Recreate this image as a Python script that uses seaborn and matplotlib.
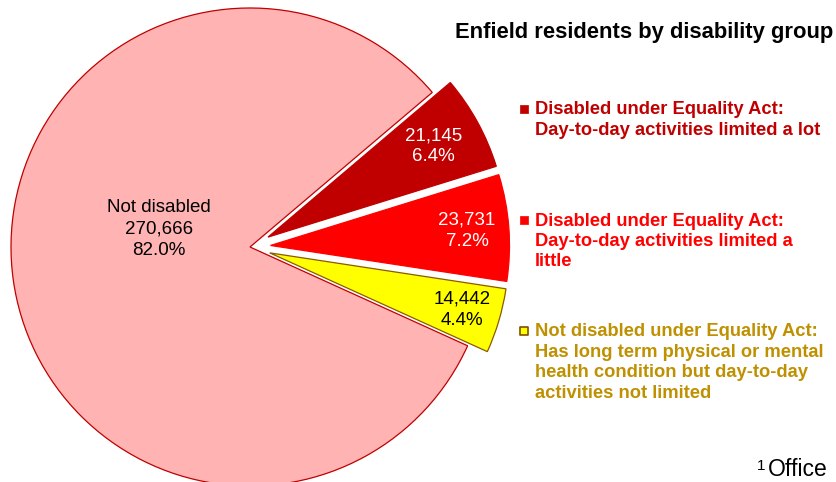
import matplotlib
matplotlib.use("Agg")
import matplotlib.pyplot as plt
import seaborn as sns
import numpy as np

# ---- data ----
categories = [
    "Disabled under Equality Act:\nDay-to-day activities limited a lot",
    "Disabled under Equality Act:\nDay-to-day activities limited a\nlittle",
    "Not disabled under Equality Act:\nHas long term physical or mental\nhealth condition but day-to-day\nactivities not limited",
    "Not disabled",
]
counts = [21145, 23731, 14442, 270666]
count_labels = ["21,145", "23,731", "14,442", "270,666"]
percents = [6.4, 7.2, 4.4, 82.0]
title = "Enfield residents by disability group"
footnote_mark = "1"
footnote = "Office"

# ---- style ----
slice_colors = ["#C00000", "#FF0000", "#FFFF00", "#FFB3B3"]
edge_colors = ["#C00000", "#FF0000", "#8B5A00", "#C00000"]
legend_colors = ["#C00000", "#FF0000", "#BF9000"]
label_colors = ["white", "white", "black", "black"]
label_frac = [0.79, 0.825, 0.84]

sns.set_theme(style="white")
plt.rcParams['font.family'] = ['Liberation Sans', 'DejaVu Sans']

W, H = 836, 482
fig = plt.figure(figsize=(W / 100, H / 100), dpi=100)
ax = fig.add_axes([0, 0, 1, 1])

cx, cy, R = 250, H - 247, 239
explode_frac = [0.086, 0.086, 0.086, 0.0]
wedges, _ = ax.pie(counts, colors=slice_colors, startangle=40.3, counterclock=False,
                   explode=[e * R for e in explode_frac], center=(cx, cy), radius=R,
                   wedgeprops=dict(linewidth=0.9))
for w, ec in zip(wedges, edge_colors):
    w.set_edgecolor(ec)

ax.set_xlim(0, W)
ax.set_ylim(0, H)
ax.set_aspect('equal')
ax.axis('off')

# slice labels
for i, w in enumerate(wedges):
    txt = f"{count_labels[i]}\n{percents[i]:.1f}%"
    if i < 3:
        mid = np.deg2rad((w.theta1 + w.theta2) / 2)
        x = w.center[0] + label_frac[i] * R * np.cos(mid)
        y = w.center[1] + label_frac[i] * R * np.sin(mid)
    else:
        txt = f"{categories[i]}\n" + txt
        x, y = cx - 91, cy + 18
    ax.text(x, y, txt, ha='center', va='center', color=label_colors[i],
            fontsize=13.5, linespacing=1.33)

# title
ax.text(455, H - 38, title, ha='left', va='baseline', fontsize=15.8,
        fontweight='bold', color='black')

# legend (manual)
leg_y = [109, 220, 331]
for i in range(3):
    y = H - leg_y[i]
    ec = "#7F4F00" if i == 2 else slice_colors[i]
    ax.scatter([524], [y], marker='s', s=40 if i == 2 else 30, color=slice_colors[i],
               edgecolors=ec, linewidths=1.2 if i == 2 else 0.5, zorder=5, clip_on=False)
    ax.text(535, y + 7.5, categories[i], ha='left', va='top', fontsize=13.2,
            fontweight='bold', color=legend_colors[i], linespacing=1.26)

# footnote
ax.text(757, H - 470, footnote_mark, ha='left', va='baseline', fontsize=11, color='black')
ax.text(768, H - 476, footnote, ha='left', va='baseline', fontsize=16.5, color='black')

fig.savefig("out.png", dpi=100)
